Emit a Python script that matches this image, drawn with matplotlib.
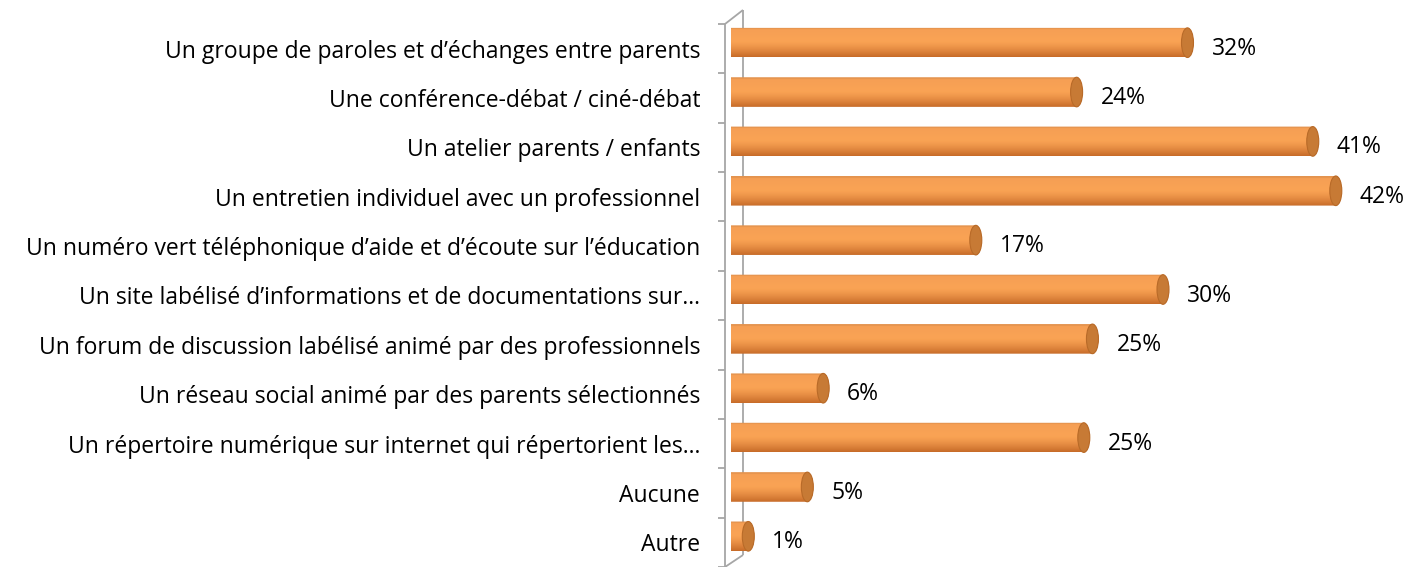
import matplotlib

matplotlib.use("Agg")
import matplotlib.pyplot as plt
import numpy as np
from matplotlib.path import Path
from matplotlib.patches import PathPatch, Ellipse

categories = [
    "Un groupe de paroles et d\u2019échanges entre parents",
    "Une conférence-débat / ciné-débat",
    "Un atelier parents / enfants",
    "Un entretien individuel avec un professionnel",
    "Un numéro vert téléphonique d\u2019aide et d\u2019écoute sur l\u2019éducation",
    "Un site labélisé d\u2019informations et de documentations sur\u2026",
    "Un forum de discussion labélisé animé par des professionnels",
    "Un réseau social animé par des parents sélectionnés",
    "Un répertoire numérique sur internet qui répertorient les\u2026",
    "Aucune",
    "Autre",
]
values = [31.7, 24.0, 40.4, 42.0, 17.0, 30.0, 25.1, 6.4, 24.5, 5.3, 1.2]
value_labels = ["32%", "24%", "41%", "42%", "17%", "30%", "25%", "6%", "25%", "5%", "1%"]

plt.rcParams["font.family"] = ["Open Sans", "DejaVu Sans"]
FS = 16.5

W, H = 1415, 567
fig = plt.figure(figsize=(W / 100, H / 100), dpi=100)
# axes in pixel terms: bars start at x=731, rows span y=18..561
ax = fig.add_axes([731 / W, 1 - 561 / H, (W - 731) / W, (561 - 18) / H])
n = len(categories)
px_per_unit = 14.4
xmax = (W - 731) / px_per_unit
ax.set_xlim(0, xmax)
ax.set_ylim(n - 0.5, -0.5)
row_px = (561 - 18) / n
for s in ax.spines.values():
    s.set_visible(False)
ax.set_xticks([])
ax.tick_params(axis="y", length=0, pad=22.3, labelsize=FS)
dy = 6 / row_px  # front plane is shifted down a bit
ax.set_yticks(np.arange(n) + dy)
ax.set_yticklabels(categories)

# 3D-ish wall on the left
wall = "#a6a6a6"
fx, bx = -6 / px_per_unit, 12 / px_per_unit
ftop, fbot = -0.5 + dy, n - 0.5 + dy
btop, bbot = ftop - 14 / row_px, fbot - 12 / row_px
kw = dict(color=wall, lw=1.3, clip_on=False, solid_capstyle="butt")
ax.plot([fx, fx], [ftop, fbot], **kw)
ax.plot([bx, bx], [btop, bbot], **kw)
ax.plot([fx, bx], [ftop, btop], **kw)
ax.plot([fx, bx], [fbot, bbot], **kw)
for k in range(n + 1):
    ax.plot([fx - 7 / px_per_unit, fx], [k - 0.5 + dy] * 2, **kw)

# cylinder bars
bh = 0.6
rx = 6 / px_per_unit
top_c = np.array([0.96, 0.62, 0.33])
mid_c = np.array([0.98, 0.64, 0.33])
bot_c = np.array([0.78, 0.42, 0.16])
t = np.linspace(0, 1, 64)[:, None]
shade = np.where(t < 0.45, top_c + (mid_c - top_c) * (t / 0.45),
                 mid_c + (bot_c - mid_c) * ((t - 0.45) / 0.55) ** 1.4)
shade[:4] = shade[:4] * 0.93
img = np.repeat(shade[:, None, :], 2, axis=1)

th = np.linspace(np.pi / 2, 3 * np.pi / 2, 40)
for i, v in enumerate(values):
    y0, y1 = i - bh / 2, i + bh / 2
    left = np.c_[rx * np.cos(th), i - bh / 2 * np.sin(th)]
    right = np.c_[v - rx * np.cos(th), i + bh / 2 * np.sin(th)]
    verts = np.vstack([left, right, left[:1]])
    clip = PathPatch(Path(verts), transform=ax.transData, fc="none", ec="none")
    ax.add_patch(clip)
    im = ax.imshow(img, extent=[-rx, v + rx, y1, y0], aspect="auto",
                   interpolation="bilinear", zorder=2)
    im.set_clip_path(clip)
    cap = Ellipse((v, i), 2 * rx, bh, fc="#c77a35", ec="#b86a28", lw=0.8, zorder=3)
    ax.add_patch(cap)
    ax.text(v + rx + 18 / px_per_unit, i + dy, value_labels[i], va="center",
            ha="left", fontsize=FS)

ax.set_xlim(0, xmax)
ax.set_ylim(n - 0.5, -0.5)
fig.savefig("out.png", dpi=100)
